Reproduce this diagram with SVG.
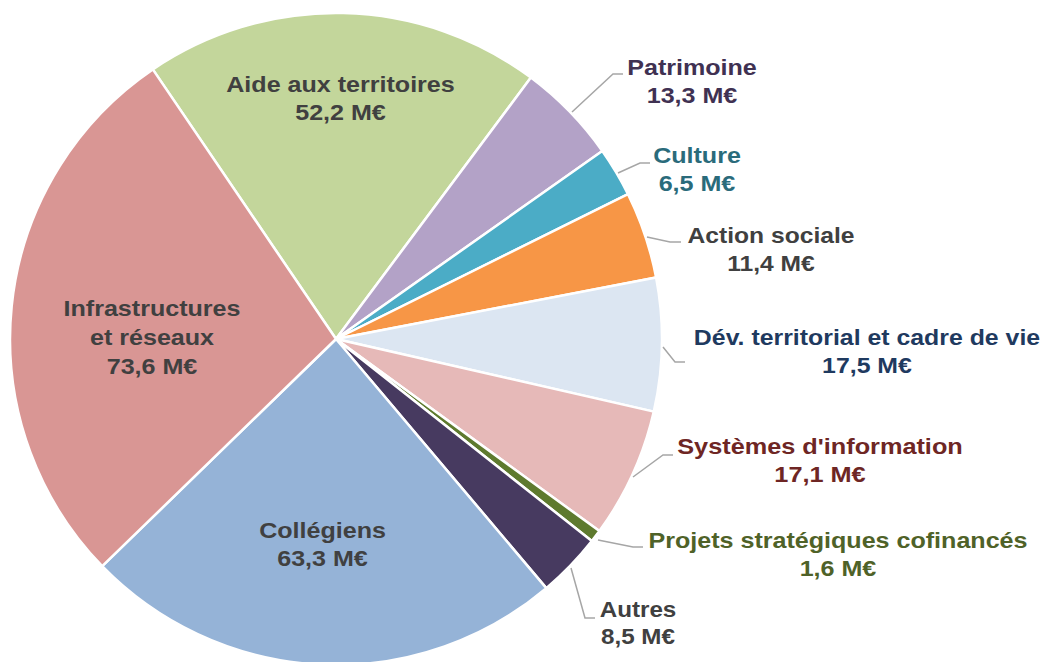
<svg xmlns="http://www.w3.org/2000/svg" width="1049" height="662" viewBox="0 0 1049 662">
<style>
.s{stroke:#fff;stroke-width:2.5;stroke-linejoin:round}
.t{font-family:"Liberation Sans",Arial,sans-serif;font-weight:bold;font-size:22px;text-anchor:middle}
.lead{fill:none;stroke:#A6A6A6;stroke-width:1.5}
</style>
<rect width="1049" height="662" fill="#fff"/>
<g id="slices">
<path id="aide" class="s" fill="#C3D69B" d="M336,339 L152.8,69.4 A326,326 0 0 1 530.9,77.6 Z"/>
<path id="patrimoine" class="s" fill="#B3A2C7" d="M336,339 L530.9,77.6 A326,326 0 0 1 602.3,151.0 Z"/>
<path id="culture" class="s" fill="#4BACC6" d="M336,339 L602.3,151.0 A326,326 0 0 1 628.0,194.1 Z"/>
<path id="action" class="s" fill="#F79646" d="M336,339 L628.0,194.1 A326,326 0 0 1 656.1,277.4 Z"/>
<path id="dev" class="s" fill="#DCE6F2" d="M336,339 L656.1,277.4 A326,326 0 0 1 653.8,411.6 Z"/>
<path id="sys" class="s" fill="#E6B9B8" d="M336,339 L653.8,411.6 A326,326 0 0 1 599.4,531.1 Z"/>
<path id="projets" class="s" fill="#5E7A2E" d="M336,339 L599.4,531.1 A326,326 0 0 1 591.8,541.0 Z"/>
<path id="autres" class="s" fill="#473A60" d="M336,339 L591.8,541.0 A326,326 0 0 1 546.3,588.1 Z"/>
<path id="colleg" class="s" fill="#95B3D7" d="M336,339 L546.3,588.1 A326,326 0 0 1 102.2,566.2 Z"/>
<path id="infra" class="s" fill="#D99694" d="M336,339 L102.2,566.2 A326,326 0 0 1 152.8,69.4 Z"/>
</g>
<g id="connectors">
<polyline class="lead" points="572,112 613,74 623,74"/>
<polyline class="lead" points="618,173 640,163 650,163"/>
<polyline class="lead" points="647,237 670,242 681,242"/>
<polyline class="lead" points="663,347 675,362 685,362"/>
<polyline class="lead" points="633,477 663,455 673,455"/>
<polyline class="lead" points="598,540 633,547 643,547"/>
<polyline class="lead" points="571,568 585,618 595,618"/>
</g>
<g id="label-aide" transform="translate(340.5,0) scale(1.14,1)"><text class="t" fill="#404040"><tspan x="0" y="92">Aide aux territoires</tspan><tspan x="0" y="120">52,2 M€</tspan></text></g>
<g id="label-infra" transform="translate(152,0) scale(1.14,1)"><text class="t" fill="#404040"><tspan x="0" y="316">Infrastructures</tspan><tspan x="0" y="345">et réseaux</tspan><tspan x="0" y="374">73,6 M€</tspan></text></g>
<g id="label-colleg" transform="translate(322.5,0) scale(1.14,1)"><text class="t" fill="#404040"><tspan x="0" y="538">Collégiens</tspan><tspan x="0" y="566">63,3 M€</tspan></text></g>
<g id="label-patrimoine" transform="translate(692,0) scale(1.14,1)"><text class="t" fill="#403152"><tspan x="0" y="75">Patrimoine</tspan><tspan x="0" y="103">13,3 M€</tspan></text></g>
<g id="label-culture" transform="translate(697,0) scale(1.14,1)"><text class="t" fill="#2A6B7B"><tspan x="0" y="163">Culture</tspan><tspan x="0" y="191">6,5 M€</tspan></text></g>
<g id="label-action" transform="translate(771,0) scale(1.12,1)"><text class="t" fill="#404040"><tspan x="0" y="243">Action sociale</tspan><tspan x="0" y="271">11,4 M€</tspan></text></g>
<g id="label-dev" transform="translate(867,0) scale(1.13,1)"><text class="t" fill="#1F3A5F"><tspan x="0" y="345">Dév. territorial et cadre de vie</tspan><tspan x="0" y="373">17,5 M€</tspan></text></g>
<g id="label-sys" transform="translate(820,0) scale(1.15,1)"><text class="t" fill="#6E2624"><tspan x="0" y="454">Systèmes d'information</tspan><tspan x="0" y="482">17,1 M€</tspan></text></g>
<g id="label-projets" transform="translate(838,0) scale(1.14,1)"><text class="t" fill="#4F6228"><tspan x="0" y="548">Projets stratégiques cofinancés</tspan><tspan x="0" y="576">1,6 M€</tspan></text></g>
<g id="label-autres" transform="translate(638,0) scale(1.1,1)"><text class="t" fill="#404040"><tspan x="0" y="617">Autres</tspan><tspan x="0" y="644">8,5 M€</tspan></text></g>
</svg>
